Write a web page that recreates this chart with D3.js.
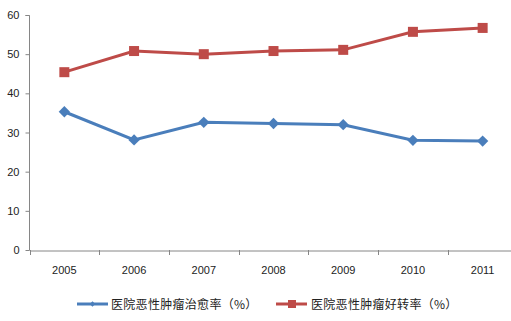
<!DOCTYPE html>
<html><head><meta charset="utf-8">
<script src="https://cdn.jsdelivr.net/npm/d3@7/dist/d3.min.js"></script>
<style>body{margin:0;background:#fff}svg{display:block}</style>
</head><body>
<script>
const years = ["2005","2006","2007","2008","2009","2010","2011"];
const cureRate = [35.3, 28.1, 32.6, 32.3, 32.0, 28.0, 27.8];
const improveRate = [45.4, 50.8, 50.0, 50.8, 51.1, 55.7, 56.7];
const yTicks = [0,10,20,30,40,50,60];
const seriesNames = ["医院恶性肿瘤治愈率（%）","医院恶性肿瘤好转率（%）"];

const W=511,H=321;
const svg=d3.select("body").append("svg").attr("width",W).attr("height",H);
const x=d3.scaleBand().domain(years).range([29.5,517.5]);
const y=d3.scaleLinear().domain([0,60]).range([250,15]);
const font="'Noto Sans CJK SC', 'DejaVu Sans', sans-serif";

const ya=svg.append("g").attr("transform","translate(29.5,0)")
  .call(d3.axisLeft(y).tickValues(yTicks).tickSize(4).tickPadding(6));
ya.select(".domain").attr("stroke","#868686").attr("d","M-4,15.5H0V250.5");
ya.selectAll(".tick line").attr("stroke","#868686");
ya.selectAll("text").attr("font-family","Liberation Sans, Arial, sans-serif").attr("font-size",11).attr("fill","#222");

const xa=svg.append("g").attr("transform","translate(0,250.5)")
  .call(d3.axisBottom(x).tickSize(0).tickPadding(16));
xa.select(".domain").attr("stroke","#868686");
xa.selectAll("text").attr("font-family","Liberation Sans, Arial, sans-serif").attr("font-size",11).attr("fill","#222");
// category boundary ticks
svg.append("g").selectAll("line").data(years.concat(["end"])).join("line")
  .attr("x1",(d,i)=>Math.round(29.5+i*x.step())+0.5).attr("x2",(d,i)=>Math.round(29.5+i*x.step())+0.5)
  .attr("y1",250).attr("y2",255).attr("stroke","#868686");

const cx=d=>x(d)+x.bandwidth()/2;
const line=d3.line().x((d,i)=>cx(years[i])).y(d=>y(d));
const blue="#4a7ebb", red="#be4b48";
svg.append("path").attr("d",line(improveRate)).attr("fill","none").attr("stroke",red).attr("stroke-width",3);
svg.append("path").attr("d",line(cureRate)).attr("fill","none").attr("stroke",blue).attr("stroke-width",3);
svg.append("g").selectAll("rect").data(improveRate).join("rect")
  .attr("x",(d,i)=>cx(years[i])-5).attr("y",d=>y(d)-5).attr("width",10).attr("height",10).attr("fill",red);
svg.append("g").selectAll("path").data(cureRate).join("path")
  .attr("d",d3.symbol(d3.symbolSquare,64)).attr("transform",(d,i)=>`translate(${cx(years[i])},${y(d)}) rotate(45)`).attr("fill",blue);

// legend
const lg=svg.append("g");
lg.append("line").attr("x1",77).attr("x2",108).attr("y1",304).attr("y2",304).attr("stroke",blue).attr("stroke-width",3);
lg.append("path").attr("d",d3.symbol(d3.symbolSquare,14)).attr("transform","translate(92.5,304) rotate(45)").attr("fill",blue);
lg.append("text").attr("x",111).attr("y",308.5).text(seriesNames[0]).attr("font-family",font).attr("font-size",12).attr("letter-spacing",0.3).attr("fill","#222");
lg.append("line").attr("x1",276).attr("x2",307).attr("y1",304).attr("y2",304).attr("stroke",red).attr("stroke-width",3);
lg.append("rect").attr("x",288).attr("y",300).attr("width",8).attr("height",8).attr("fill",red);
lg.append("text").attr("x",311).attr("y",308.5).text(seriesNames[1]).attr("font-family",font).attr("font-size",12).attr("letter-spacing",0.3).attr("fill","#222");
</script>
</body></html>
